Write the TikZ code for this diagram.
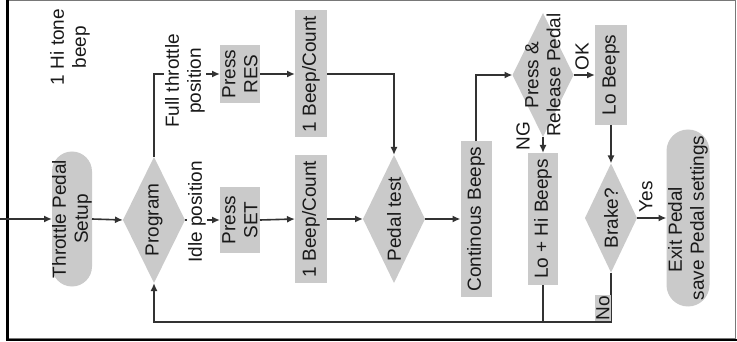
\documentclass[tikz,border=0pt]{standalone}
\usepackage{fontspec}
\setmainfont{Liberation Sans}
\usetikzlibrary{shapes.geometric,arrows.meta}
\definecolor{boxgray}{RGB}{202,202,202}
\definecolor{linegray}{RGB}{50,50,50}
\definecolor{framegray}{RGB}{120,120,120}
\begin{document}
\begin{tikzpicture}[x=1pt,y=-1pt,
  shp/.style={fill=boxgray, draw=none, inner sep=0pt, outer sep=0pt},
  box/.style={shp, rectangle},
  dia/.style={shp, diamond},
  pill/.style={shp, rectangle, rounded corners=#1},
  txt/.style={rotate=90, align=center, inner sep=0pt, font=\fontsize{19}{22}\selectfont, text=black!90},
  lbl/.style={txt, fill=white, inner sep=1.5pt},
  arr/.style={draw=linegray, line width=1.6pt, -{Latex[length=8pt,width=7pt]}},
  ln/.style={draw=linegray, line width=1.6pt},
]
\useasboundingbox (0,0) rectangle (737,342);
% frame
\draw[draw=framegray, line width=1pt] (7,1) rectangle (735,338);
\draw[line width=2.5pt] (7.5,0) -- (7.5,340) -- (737,340);

% shapes
\node[pill=20pt, minimum width=40pt, minimum height=135pt] (setup) at (72,219) {};
\node[dia, minimum width=62pt, minimum height=126pt] (prog) at (154,220) {};
\node[box, minimum width=40pt, minimum height=58pt] (pres) at (240,74) {};
\node[box, minimum width=40pt, minimum height=66pt] (pset) at (240,220) {};
\node[box, minimum width=32pt, minimum height=127pt] (b1) at (311,74) {};
\node[box, minimum width=32pt, minimum height=128pt] (b2) at (311,219) {};
\node[dia, minimum width=62pt, minimum height=128pt] (ptest) at (394,219) {};
\node[box, minimum width=31pt, minimum height=155pt] (cont) at (476,219) {};
\node[dia, minimum width=61pt, minimum height=124pt] (prel) at (543,75) {};
\node[box, minimum width=32pt, minimum height=100pt] (lobeep) at (611,75) {};
\node[box, minimum width=30pt, minimum height=132pt] (lohi) at (543,219) {};
\node[dia, minimum width=52pt, minimum height=109pt] (brake) at (611,218) {};
\node[pill=21.5pt, minimum width=43pt, minimum height=177pt] (exit) at (688,218) {};

% texts
\node[txt] (note) at (70,47) {1 Hi tone\\beep};
\node[txt] (setupt) at (setup) {Throttle Pedal\\Setup};
\node[txt] (progt) at (prog) {Program};
\node[txt] (prest) at (pres) {Press\\RES};
\node[txt] (psett) at (pset) {Press\\SET};
\node[txt] (b1t) at (b1) {1 Beep/Count};
\node[txt] (b2t) at (b2) {1 Beep/Count};
\node[txt] (ptestt) at (ptest) {Pedal test};
\node[txt] (contt) at (cont) {Continous Beeps};
\node[txt] (prelt) at (prel) {Press \&\\Release Pedal};
\node[txt] (lobeept) at (lobeep) {Lo Beeps};
\node[txt] (lohit) at (lohi) {Lo + Hi Beeps};
\node[txt] (braket) at (brake) {Brake?};
\node[txt, align=left] (exitt) at (exit) {\hspace*{28pt}Exit Pedal\\save Pedal settings};

% connectors
\coordinate (in) at (0,219);
\coordinate (bot) at (0,322);
\draw[arr] (in) -- (setup.west);
\draw[arr] (setup.east) -- (prog.west);
\draw[arr] (prog.north) |- (pres.west);
\draw[arr] (prog.east) -- (pset.west);
\draw[arr] (pres.east) -- (b1.west);
\draw[arr] (pset.east) -- (b2.west);
\draw[arr] (b1.east) -| (ptest.north);
\draw[arr] (b2.east) -- (ptest.west);
\draw[arr] (ptest.east) -- (cont.west);
\draw[arr] (cont.north) |- (prel.west);
\draw[arr] (prel.east) -- (lobeep.west);
\draw[arr] (prel.south) -- (lohi.north);
\draw[arr] (lobeep.south) -- (brake.north);
\draw[arr] (brake.east) -- (exit.west);
\draw[arr] (brake.south) -- (brake.south |- bot) -| (prog.south);
\draw[ln] (lohi.south) -- (lohi.south |- bot);

% labels
\node[lbl] (lfull) at (185,81) {Full throttle\\position};
\node[lbl] (lidle) at (197,212) {Idle position};
\node[lbl] (lok) at (582,57) {OK};
\node[txt] (lng) at (523,136) {NG};
\node[lbl] (lyes) at (646,197) {Yes};
\node[txt, fill=boxgray, inner sep=1pt] (lno) at (603,308) {No};
\end{tikzpicture}
\end{document}
